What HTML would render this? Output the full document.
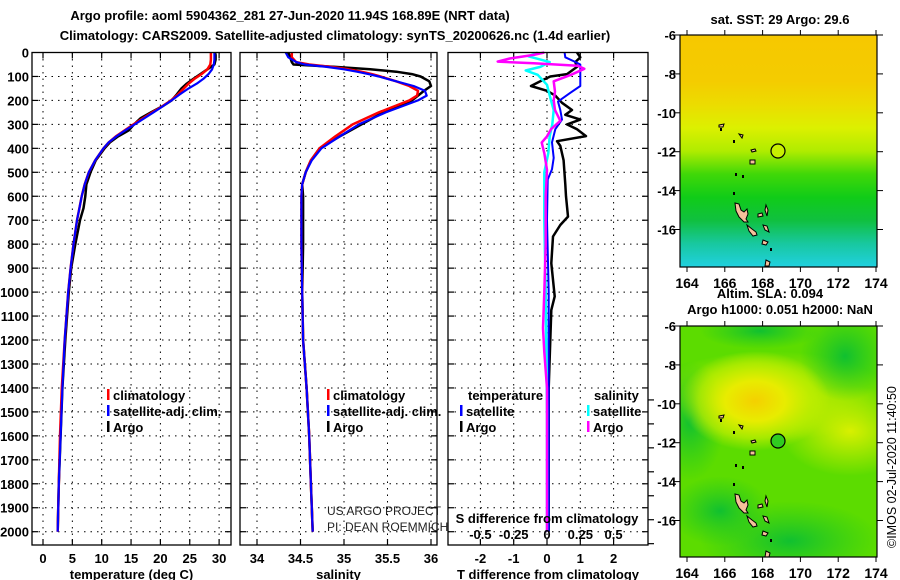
<!DOCTYPE html>
<html><head><meta charset="utf-8">
<style>
html,body{margin:0;padding:0;background:#fff;}
body{width:900px;height:580px;overflow:hidden;position:relative;font-family:"Liberation Sans",sans-serif;}
svg{position:absolute;left:0;top:0;}
text{font-family:"Liberation Sans",sans-serif;font-weight:bold;font-size:13px;fill:#000;}
</style></head>
<body>
<svg id="chart" width="900" height="580" viewBox="0 0 900 580">
<defs>
<linearGradient id="sstGrad" x1="0" y1="0" x2="0" y2="1">
<stop offset="0" stop-color="#f6c800"/>
<stop offset="0.2" stop-color="#f4cc00"/>
<stop offset="0.3" stop-color="#ecdc00"/>
<stop offset="0.4" stop-color="#dcf000"/>
<stop offset="0.5" stop-color="#b0ec00"/>
<stop offset="0.6" stop-color="#40d808"/>
<stop offset="0.7" stop-color="#10cc18"/>
<stop offset="0.8" stop-color="#10c040"/>
<stop offset="0.9" stop-color="#18c8a0"/>
<stop offset="1" stop-color="#20d0e0"/>
</linearGradient>
<radialGradient id="slaBlob" cx="0.5" cy="0.5" r="0.5">
<stop offset="0" stop-color="#f4d000"/>
<stop offset="0.4" stop-color="#e8ec00"/>
<stop offset="0.75" stop-color="#c0ee00" stop-opacity="0.7"/>
<stop offset="1" stop-color="#c0ee00" stop-opacity="0"/>
</radialGradient>
<radialGradient id="slaYel" cx="0.5" cy="0.5" r="0.5">
<stop offset="0" stop-color="#d8f000"/>
<stop offset="1" stop-color="#d8f000" stop-opacity="0"/>
</radialGradient>
<radialGradient id="slaDark" cx="0.5" cy="0.5" r="0.5">
<stop offset="0" stop-color="#10c030"/>
<stop offset="1" stop-color="#20c820" stop-opacity="0"/>
</radialGradient>
</defs>

<text x="290" y="20" text-anchor="middle">Argo profile: aoml 5904362_281 27-Jun-2020 11.94S 168.89E (NRT data)</text>
<text x="335" y="40" text-anchor="middle">Climatology: CARS2009. Satellite-adjusted climatology: synTS_20200626.nc (1.4d earlier)</text>

<g id="panels"></g>

<!-- Maps -->
<g>
<text x="780" y="24" text-anchor="middle">sat. SST: 29 Argo: 29.6</text>
<rect x="680" y="35" width="197" height="232" fill="url(#sstGrad)"/>
<g id="isl1"></g>
<circle cx="778" cy="151" r="7" fill="#c8f000" stroke="#000" stroke-width="1.2"/>
<rect x="680" y="35" width="197" height="232" fill="none" stroke="#000" stroke-width="1.2"/>
</g>
<g>
<text x="770" y="298" text-anchor="middle">Altim. SLA: 0.094</text>
<text x="780" y="314" text-anchor="middle">Argo h1000: 0.051 h2000: NaN</text>
<svg x="680" y="326" width="197" height="231" viewBox="0 0 197 231" overflow="hidden">
<rect x="0" y="0" width="197" height="231" fill="#5cdc00"/>
<ellipse cx="170" cy="105" rx="70" ry="45" fill="url(#slaYel)"/>
<ellipse cx="90" cy="70" rx="120" ry="45" fill="url(#slaYel)"/>
<ellipse cx="165" cy="30" rx="45" ry="45" fill="url(#slaDark)"/>
<ellipse cx="10" cy="95" rx="35" ry="60" fill="url(#slaDark)"/>
<ellipse cx="110" cy="215" rx="90" ry="40" fill="url(#slaDark)"/>
<ellipse cx="40" cy="185" rx="50" ry="35" fill="url(#slaDark)"/>
<ellipse cx="80" cy="5" rx="60" ry="18" fill="url(#slaDark)"/>
<ellipse cx="75" cy="75" rx="75" ry="50" fill="url(#slaBlob)"/>
</svg>
<g id="isl2"></g>
<circle cx="778" cy="441" r="7" fill="#30cc20" stroke="#000" stroke-width="1.2"/>
<rect x="680" y="326" width="197" height="231" fill="none" stroke="#000" stroke-width="1.2"/>
</g>
<g id="mapaxes"></g>
<text x="896" y="548" transform="rotate(-90 896 548)" style="font-weight:normal;font-size:12.5px">©IMOS 02-Jul-2020 11:40:50</text>
</svg>

<script>
// ---- data ----
const tDepth = [0,10,30,50,70,90,110,130,150,175,200,225,250,275,300,325,350,375,400,450,500,550,600,650,700,800,900,1000,1200,1400,1600,1800,2000];
const tClim  = [28.6,28.6,28.6,28.5,28.0,27.0,25.8,24.8,24.0,23.0,21.8,20.3,18.6,17.0,15.4,13.9,12.4,11.2,10.3,8.9,7.8,7.1,6.6,6.2,5.8,5.2,4.7,4.3,3.7,3.2,2.9,2.7,2.5];
const tSat   = [29.2,29.2,29.2,29.1,28.8,28.2,27.3,26.2,24.8,23.3,21.9,20.4,18.8,17.2,15.6,14.0,12.5,11.2,10.3,8.9,7.8,7.1,6.6,6.2,5.8,5.2,4.7,4.3,3.7,3.3,3.0,2.7,2.5];
const tArgo  = [29.3,29.4,29.4,29.2,28.0,26.8,25.6,24.5,23.6,22.8,21.9,20.3,18.4,16.6,15.5,14.6,12.8,11.4,10.5,9.0,8.1,7.4,7.2,6.9,6.3,5.5,4.8,4.4,3.8,3.3,3.0,2.7,2.5];

const sDepth = [0,20,40,50,60,70,80,90,100,120,140,160,180,200,250,300,350,400,450,500,550,600,800,1000,1200,1400,1600,1800,2000];
const sClim  = [34.40,34.40,34.45,34.60,34.85,35.05,35.20,35.32,35.42,35.60,35.75,35.85,35.84,35.75,35.40,35.10,34.90,34.72,34.62,34.56,34.52,34.51,34.51,34.52,34.53,34.57,34.60,34.62,34.64];
const sSat   = [34.33,34.36,34.45,34.55,34.80,35.00,35.15,35.28,35.40,35.60,35.80,35.93,35.95,35.85,35.48,35.17,34.95,34.74,34.63,34.56,34.52,34.51,34.51,34.52,34.53,34.57,34.60,34.62,34.64];
const sArgo  = [34.36,34.38,34.40,34.42,34.90,35.30,35.60,35.78,35.88,35.98,36.00,35.92,35.85,35.78,35.45,35.20,34.95,34.72,34.62,34.56,34.52,34.53,34.53,34.52,34.53,34.57,34.60,34.62,34.64];

const dtArgoDepth = [0,20,40,60,90,100,120,140,160,180,210,240,260,280,300,320,349,370,390,450,550,600,685,720,768,880,1018,1075,1200,1400,1700,2000];
const dtArgo      = [0.9,1.0,0.85,0.9,0.6,0.1,-0.2,-0.48,0.0,0.25,0.45,0.75,0.55,1.0,0.6,0.9,1.17,0.3,0.4,0.5,0.55,0.57,0.63,0.4,0.18,0.13,0.23,0.13,0.1,0.05,0.05,0.05];
const dtSatDepth  = [0,20,38,50,100,140,168,205,240,280,320,375,440,487,530,700,1000,1500,2000];
const dtSat       = [0.53,0.55,0.83,1.0,1.0,1.0,0.7,0.33,0.4,0.45,0.25,0.15,0.2,0.15,0.02,0.0,0.05,0.05,0.05];
const dsArgoDepth = [0,10,25,38,45,55,68,93,120,163,200,240,285,320,350,376,420,490,600,800,1000,1150,1250,1400,2000];
const dsArgo      = [-0.02,-0.1,-0.28,-0.37,-0.1,0.23,0.28,0.18,0.05,0.06,0.05,0.06,0.1,0.03,0,-0.04,-0.02,0,-0.01,-0.01,-0.02,-0.03,-0.02,0,0];
const dsSatDepth  = [0,16,40,60,75,93,135,200,240,300,349,420,500,700,1000,1500,2000];
const dsSat       = [-0.07,-0.14,0.02,-0.05,-0.16,-0.07,0.0,0.03,0.05,0.04,0.02,0.01,-0.02,-0.02,-0.01,0,0];

const depthTicks = [0,100,200,300,400,500,600,700,800,900,1000,1100,1200,1300,1400,1500,1600,1700,1800,1900,2000];
const tTicks = [0,5,10,15,20,25,30];
const sTicks = [34,34.5,35,35.5,36];
const dtTicks = [-2,-1,0,1,2];
const dsTicks = [-0.5,-0.25,0,0.25,0.5];
const lonTicks = [164,166,168,170,172,174];
const latTicks = [-6,-8,-10,-12,-14,-16];

// ---- scales ----
const TOP = 52.5, BOT = 545;
const yD = d => TOP + d * 0.2396;
const xT = t => 43 + t * 5.87;
const xS = s => 257 + (s - 34) * 87;
const xDT = v => 547 + v * 33.3;
const xDS = v => 547 + v * 133.2;

const NS = 'http://www.w3.org/2000/svg';
const root = document.getElementById('panels');
function mk(tag, attrs, parent) {
  const e = document.createElementNS(NS, tag);
  for (const k in attrs) e.setAttribute(k, attrs[k]);
  (parent || root).appendChild(e);
  return e;
}
function line(xs, ds, xf, color, w, name) {
  const pts = xs.map((v, i) => xf(v).toFixed(1) + ',' + yD(ds[i]).toFixed(1)).join(' ');
  const p = mk('polyline', {points: pts, fill: 'none', stroke: color, 'stroke-width': w, 'stroke-linejoin': 'round'});
  
  
}
function txt(x, y, s, anchor, style) {
  const t = mk('text', {x: x, y: y, 'text-anchor': anchor || 'start'});
  if (style) t.setAttribute('style', style);
  t.textContent = s;
  return t;
}

const panels = [
  {x0: 32, x1: 231, ticks: tTicks, xf: xT, title: 'temperature (deg C)', name: 'temperature-panel'},
  {x0: 240, x1: 437, ticks: sTicks, xf: xS, title: 'salinity', name: 'salinity-panel'},
  {x0: 448, x1: 648, ticks: dtTicks, xf: xDT, title: 'T difference from climatology', name: 'difference-panel'}
];

depthTicks.forEach(d => {
  const t = txt(29, yD(d) + 5, String(d), 'end');
  
  
});

panels.forEach(p => {
  const cx = (p.x0 + p.x1) / 2;
  const g = mk('rect', {x: p.x0, y: TOP, width: p.x1 - p.x0, height: BOT - TOP, fill: '#fff', stroke: 'none'});
  
  
  depthTicks.forEach(d => {
    if (d === 0) return;
    mk('line', {x1: p.x0, x2: p.x1, y1: yD(d), y2: yD(d), stroke: '#000', 'stroke-width': 1, 'stroke-dasharray': '1.5,5'});
    mk('line', {x1: p.x0, x2: p.x0 + 6, y1: yD(d), y2: yD(d), stroke: '#000', 'stroke-width': 1.2});
    mk('line', {x1: p.x1 - 6, x2: p.x1, y1: yD(d), y2: yD(d), stroke: '#000', 'stroke-width': 1.2});
  });
  p.ticks.forEach(v => {
    const x = p.xf(v);
    mk('line', {x1: x, x2: x, y1: TOP, y2: BOT, stroke: '#000', 'stroke-width': 1, 'stroke-dasharray': '1.5,5'});
    mk('line', {x1: x, x2: x, y1: TOP, y2: TOP + 6, stroke: '#000', 'stroke-width': 1.2});
    mk('line', {x1: x, x2: x, y1: BOT - 6, y2: BOT, stroke: '#000', 'stroke-width': 1.2});
    const t = txt(x, 563, String(v), 'middle');
    
    
  });
  const tt = txt(cx, 579, p.title, 'middle');
  
  
});

depthTicks.forEach(d => {
  if (d < 1400) return;
  mk('line', {x1: 648, x2: 654, y1: yD(d + 50), y2: yD(d + 50), stroke: '#000', 'stroke-width': 1.2});
});

line(tArgo, tDepth, xT, '#000', 2.5, 'temperature-argo-line');
line(tClim, tDepth, xT, '#f00', 2.5, 'temperature-climatology-line');
line(tSat, tDepth, xT, '#00f', 2.2, 'temperature-satellite-line');
line(sArgo, sDepth, xS, '#000', 2.5, 'salinity-argo-line');
line(sClim, sDepth, xS, '#f00', 2.5, 'salinity-climatology-line');
line(sSat, sDepth, xS, '#00f', 2.2, 'salinity-satellite-line');
line(dtArgo, dtArgoDepth, xDT, '#000', 2.5, 'tdiff-argo-line');
line(dtSat, dtSatDepth, xDT, '#00f', 2, 'tdiff-satellite-line');
line(dsSat, dsSatDepth, xDS, '#0ff', 2.5, 'sdiff-satellite-line');
line(dsArgo, dsArgoDepth, xDS, '#f0f', 2.5, 'sdiff-argo-line');

panels.forEach(p => {
  mk('rect', {x: p.x0, y: TOP, width: p.x1 - p.x0, height: BOT - TOP, fill: 'none', stroke: '#000', 'stroke-width': 1.3});
});

dsTicks.forEach(v => {
  const t = txt(xDS(v), 539, String(v), 'middle');
  
  
});
const sdt = txt(547, 523, 'S difference from climatology', 'middle');



function legend(x, y, color, label, name) {
  mk('rect', {x: x, y: y - 11, width: 2.5, height: 11, fill: color});
  const t = txt(x + 6, y, label, 'start');
  
  
}
legend(107, 400, '#f00', 'climatology', 'legend-temp-climatology');
legend(107, 416, '#00f', 'satellite-adj. clim.', 'legend-temp-satellite');
legend(107, 432, '#000', 'Argo', 'legend-temp-argo');
legend(327, 400, '#f00', 'climatology', 'legend-sal-climatology');
legend(327, 416, '#00f', 'satellite-adj. clim.', 'legend-sal-satellite');
legend(327, 432, '#000', 'Argo', 'legend-sal-argo');
const lt = txt(468, 400, 'temperature', 'start');  
const ls = txt(594, 400, 'salinity', 'start');  
legend(460, 416, '#00f', 'satellite', 'legend-tdiff-satellite');
legend(460, 432, '#000', 'Argo', 'legend-tdiff-argo');
legend(587, 416, '#0ff', 'satellite', 'legend-sdiff-satellite');
legend(587, 432, '#f0f', 'Argo', 'legend-sdiff-argo');

const c1 = txt(327, 515, 'US ARGO PROJECT', 'start', 'font-weight:normal;font-size:12px;fill:#222');


const c2 = txt(327, 531, 'PI: DEAN ROEMMICH', 'start', 'font-weight:normal;font-size:12px;fill:#222');



// ---- maps ----
const mapAx = document.getElementById('mapaxes');
const maps = [{top: 35, bot: 267, lab: 288}, {top: 326, bot: 557, lab: 578}];
const xLon = lon => 687 + (lon - 164) * 18.9;
maps.forEach(m => {
  const yLat = lat => m.top + (-6 - lat) * 19.45;
  latTicks.forEach(l => {
    const y = yLat(l);
    mk('line', {x1: 674, x2: 680, y1: y, y2: y, stroke: '#000'}, mapAx);
    mk('line', {x1: 877, x2: 883, y1: y, y2: y, stroke: '#000'}, mapAx);
    const t = mk('text', {x: 676, y: y + 5, 'text-anchor': 'end'}, mapAx);
    t.textContent = String(l);
    
    
  });
  lonTicks.forEach(l => {
    const x = xLon(l);
    mk('line', {x1: x, x2: x, y1: m.top - 5, y2: m.top, stroke: '#000'}, mapAx);
    mk('line', {x1: x, x2: x, y1: m.bot, y2: m.bot + 5, stroke: '#000'}, mapAx);
    const t = mk('text', {x: x, y: m.lab, 'text-anchor': 'middle', style: 'font-size:14px'}, mapAx);
    t.textContent = String(l);
    
    
  });
});

const islands = [
  'M735,203 L739,204 L741,210 L744,212 L747,209 L748,214 L746,219 L748,222 L744,222 L739,217 L736,211 Z',
  'M747,225 L752,229 L756,232 L757,235 L753,236 L749,231 Z',
  'M758,214 L762,213 L763,216 L758,217 Z',
  'M763,225 L767,226 L769,232 L765,230 Z',
  'M766,260 L770,262 L769,266 L765,266 Z',
  'M719,125 L724,124 L723,127 L719,127 Z',
  'M750,160 L755,160 L755,164 L750,164 Z',
  'M751,150 L755,149 L756,151 L752,152 Z',
  'M739,134 L743,135 L742,138 Z',
  'M766,205 L768,210 L767,216 L765,210 Z',
  'M763,240 L768,242 L766,245 L762,244 Z'
];
[['isl1', 0], ['isl2', 291]].forEach(([id, dy]) => {
  const g = document.getElementById(id);
  islands.forEach(d => {
    const p = mk('path', {d: d, fill: '#f5c09a', stroke: '#000', 'stroke-width': 1, transform: 'translate(0,' + dy + ')'}, g);
    
    
  });
  [[733, 140], [735, 173], [733, 192], [742, 175], [720, 128], [770, 248]].forEach(([x, y]) => {
    mk('rect', {x: x, y: y + dy, width: 2, height: 3, fill: '#000'}, g);
  });
});
</script>
</body></html>
